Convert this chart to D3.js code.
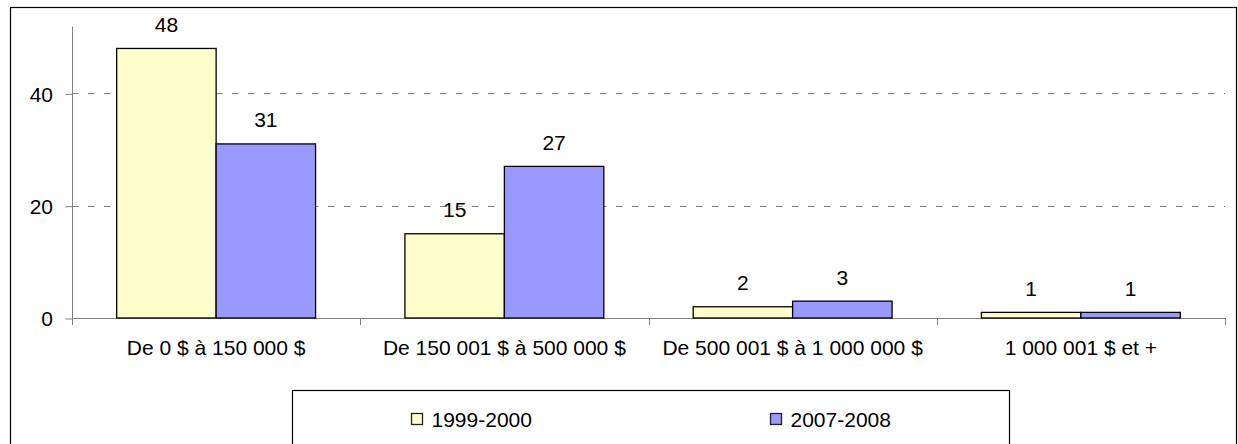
<!DOCTYPE html>
<html>
<head>
<meta charset="utf-8">
<script src="https://cdn.jsdelivr.net/npm/d3@7"></script>
<style>
  html, body { margin: 0; padding: 0; background: #fff; }
  svg { display: block; font-family: "Liberation Sans", Arial, sans-serif; }
</style>
</head>
<body>
<svg id="chart" width="1238" height="444"></svg>
<script>
const categories = ["De 0 $ à 150 000 $", "De 150 001 $ à 500 000 $", "De 500 001 $ à 1 000 000 $", "1 000 001 $ et +"];
const seriesNames = ["1999-2000", "2007-2008"];
const values1999 = [48, 15, 2, 1];
const values2007 = [31, 27, 3, 1];
const yTicks = [0, 20, 40];
const colors = ["#FFFFCC", "#9999FF"];

(function () {
const svg = d3.select("#chart");
const fontSize = 21;

// outer frame
svg.append("rect").attr("x", 10.5).attr("y", 7.5).attr("width", 1226).attr("height", 470)
  .attr("fill", "#fff").attr("stroke", "#000").attr("stroke-width", 1.2);

const pLeft = 72, pRight = 1225, pTop = 26, pBottom = 318;
const x0 = d3.scaleBand().domain(categories).range([pLeft, pRight]).paddingInner(0).paddingOuter(0);
const x1w = d3.scaleBand().domain(seriesNames)
  .range([x0.bandwidth() * 0.155, x0.bandwidth() * 0.845]);
const y = d3.scaleLinear().domain([0, 52]).range([pBottom, pTop]);

// gridlines
svg.append("g").selectAll("line").data(yTicks.filter(d => d > 0)).join("line")
  .attr("x1", pLeft).attr("x2", pRight)
  .attr("y1", d => Math.round(y(d)) + 0.5).attr("y2", d => Math.round(y(d)) + 0.5)
  .attr("stroke", "#808080").attr("stroke-width", 1).attr("stroke-dasharray", "6.5,9.5");

// y axis
const yAxis = d3.axisLeft(y).tickValues(yTicks).tickSize(7).tickPadding(12.5).tickFormat(d3.format("d"));
const gy = svg.append("g").attr("transform", `translate(${pLeft + 0.5},0.5)`).call(yAxis);
gy.select(".domain").attr("stroke", "#808080").attr("d", `M0,${pTop}V${pBottom}`);
gy.selectAll(".tick line").attr("stroke", "#808080");
gy.selectAll(".tick text").attr("font-size", fontSize).attr("fill", "#000")
  .attr("font-family", "Liberation Sans, Arial, sans-serif").attr("dy", "0.35em");

// x axis
const boundaries = categories.map(c => x0(c)).concat([pRight]);
const gx = svg.append("g");
gx.append("line").attr("x1", pLeft).attr("x2", pRight)
  .attr("y1", pBottom + 0.5).attr("y2", pBottom + 0.5).attr("stroke", "#808080");
gx.selectAll("line.t").data(boundaries).join("line").attr("class", "t")
  .attr("x1", d => Math.round(d) + 0.5).attr("x2", d => Math.round(d) + 0.5)
  .attr("y1", pBottom).attr("y2", pBottom + 7).attr("stroke", "#808080");
gx.selectAll("text").data(categories).join("text")
  .attr("x", d => x0(d) + x0.bandwidth() / 2).attr("y", 355)
  .attr("text-anchor", "middle").attr("font-size", fontSize).attr("fill", "#000")
  .text(d => d);

// bars
const series = [values1999, values2007];
series.forEach((vals, si) => {
  const g = svg.append("g");
  const data = categories.map((c, i) => ({ c, v: vals[i] }));
  g.selectAll("rect").data(data).join("rect")
    .attr("x", d => x0(d.c) + x1w(seriesNames[si]))
    .attr("y", d => y(d.v))
    .attr("width", x1w.bandwidth())
    .attr("height", d => pBottom - y(d.v))
    .attr("fill", colors[si]).attr("stroke", "#000").attr("stroke-width", 1.3);
  g.selectAll("text").data(data).join("text")
    .attr("x", d => x0(d.c) + x1w(seriesNames[si]) + x1w.bandwidth() / 2)
    .attr("y", d => y(d.v) - 16.5)
    .attr("text-anchor", "middle").attr("font-size", fontSize).attr("fill", "#000")
    .text(d => d.v);
});

// legend
svg.append("rect").attr("x", 292.5).attr("y", 390.5).attr("width", 717).attr("height", 80)
  .attr("fill", "#fff").attr("stroke", "#000").attr("stroke-width", 1.2);
const legendX = [411, 770];
seriesNames.forEach((n, i) => {
  svg.append("rect").attr("x", legendX[i] + 0.5).attr("y", 413.5).attr("width", 11).attr("height", 11)
    .attr("fill", colors[i]).attr("stroke", "#222").attr("stroke-width", 1.3);
  svg.append("text").attr("x", legendX[i] + 20.5).attr("y", 426.5)
    .attr("font-size", fontSize).attr("fill", "#000").text(n);
});
})();
</script>
</body>
</html>
